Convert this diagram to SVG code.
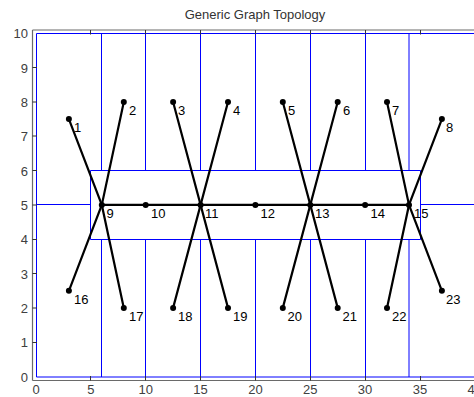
<svg xmlns="http://www.w3.org/2000/svg" width="474" height="397" viewBox="0 0 474 397">
<style>
.bl{stroke:#0000ff;stroke-width:1;fill:none}
.ax{stroke:#6a6a6a;stroke-width:1.2;fill:none}
.tk{stroke:#333;stroke-width:1;fill:none}
.tl{font-family:"Liberation Sans",Arial,sans-serif;font-size:13px;fill:#404040}
.e{stroke:#000;stroke-width:2.2;fill:none;stroke-linecap:round}
.n circle{fill:#000}
.n text{font-family:"Liberation Sans",Arial,sans-serif;font-size:13px;fill:#000}
</style>
<rect width="474" height="397" fill="#fff"/>
<text x="255" y="19" text-anchor="middle" style="font-family:'Liberation Sans',Arial,sans-serif;font-size:13px;fill:#333">Generic Graph Topology</text>
<g id="partition">
<path class="bl" d="M36.5,33.5H475M36.5,33.5V377M36.5,377H475"/>
<path class="bl" d="M90.5,170.5H420.5M90.5,239.5H420.5M90.5,170.5V239.5M420.5,170.5V239.5M36.5,204.5H90.5M420.5,204.5H475"/>
<path class="bl" d="M101.5,33.5V170.5M145.5,33.5V170.5M200.5,33.5V170.5M255.5,33.5V170.5M310.5,33.5V170.5M365.5,33.5V170.5M409,33.5V170.5"/>
<path class="bl" d="M101.5,239.5V377M145.5,239.5V377M200.5,239.5V377M255.5,239.5V377M310.5,239.5V377M365.5,239.5V377M409,239.5V377"/>
</g>
<g id="axes">
<path class="ax" d="M32.5,30H475M32.5,30V380.5M32.5,380.5H475"/>
<path class="tk" d="M90.5,30v4.5M145.5,30v4.5M200.5,30v4.5M255.5,30v4.5M310.5,30v4.5M365.5,30v4.5M420.5,30v4.5M90.5,380.5v-4.5M145.5,380.5v-4.5M200.5,380.5v-4.5M255.5,380.5v-4.5M310.5,380.5v-4.5M365.5,380.5v-4.5M420.5,380.5v-4.5M32.5,342.5h4.5M32.5,308h4.5M32.5,273.5h4.5M32.5,239.5h4.5M32.5,205h4.5M32.5,170.5h4.5M32.5,136h4.5M32.5,102h4.5M32.5,67.5h4.5"/>
<g class="tl" text-anchor="end">
<text x="28" y="381.6">0</text>
<text x="28" y="347.3">1</text>
<text x="28" y="312.9">2</text>
<text x="28" y="278.6">3</text>
<text x="28" y="244.3">4</text>
<text x="28" y="210">5</text>
<text x="28" y="175.6">6</text>
<text x="28" y="141.3">7</text>
<text x="28" y="107">8</text>
<text x="28" y="72.6">9</text>
<text x="28" y="38.3">10</text>
</g>
<g class="tl" text-anchor="middle">
<text x="36" y="394.3">0</text>
<text x="90.9" y="394.3">5</text>
<text x="145.7" y="394.3">10</text>
<text x="200.6" y="394.3">15</text>
<text x="255.4" y="394.3">20</text>
<text x="310.3" y="394.3">25</text>
<text x="365.1" y="394.3">30</text>
<text x="420" y="394.3">35</text>
<text x="474.8" y="394.3">40</text>
</g>
</g>
<g id="connectors">
<path class="e" d="M68.9,119.1L101.8,204.9L123.8,307.9"/>
<path class="e" d="M123.8,102L101.8,204.9L68.9,290.8"/>
<path class="e" d="M173.1,102L200.6,204.9L228,307.9"/>
<path class="e" d="M228,102L200.6,204.9L173.1,307.9"/>
<path class="e" d="M282.8,102L310.3,204.9L337.7,307.9"/>
<path class="e" d="M337.7,102L310.3,204.9L282.8,307.9"/>
<path class="e" d="M387,102L409,204.9L441.9,290.8"/>
<path class="e" d="M441.9,119.1L409,204.9L387,307.9"/>
<path class="e" d="M101.8,204.9H409"/>
</g>
<g id="n1" class="n"><circle cx="68.9" cy="119.1" r="3"/><text x="74" y="132">1</text></g>
<g id="n2" class="n"><circle cx="123.8" cy="102" r="3"/><text x="129" y="115">2</text></g>
<g id="n3" class="n"><circle cx="173.1" cy="102" r="3"/><text x="178" y="115">3</text></g>
<g id="n4" class="n"><circle cx="228" cy="102" r="3"/><text x="233" y="115">4</text></g>
<g id="n5" class="n"><circle cx="282.8" cy="102" r="3"/><text x="288" y="115">5</text></g>
<g id="n6" class="n"><circle cx="337.7" cy="102" r="3"/><text x="343" y="115">6</text></g>
<g id="n7" class="n"><circle cx="387" cy="102" r="3"/><text x="392" y="115">7</text></g>
<g id="n8" class="n"><circle cx="441.9" cy="119.1" r="3"/><text x="446" y="132">8</text></g>
<g id="n9" class="n"><circle cx="101.8" cy="204.9" r="3"/><text x="106.5" y="218">9</text></g>
<g id="n10" class="n"><circle cx="145.7" cy="204.9" r="3"/><text x="151" y="218">10</text></g>
<g id="n11" class="n"><circle cx="200.6" cy="204.9" r="3"/><text x="205" y="218">11</text></g>
<g id="n12" class="n"><circle cx="255.4" cy="204.9" r="3"/><text x="260.5" y="218">12</text></g>
<g id="n13" class="n"><circle cx="310.3" cy="204.9" r="3"/><text x="315" y="218">13</text></g>
<g id="n14" class="n"><circle cx="365.1" cy="204.9" r="3"/><text x="370.5" y="218">14</text></g>
<g id="n15" class="n"><circle cx="409" cy="204.9" r="3"/><text x="414" y="218">15</text></g>
<g id="n16" class="n"><circle cx="68.9" cy="290.8" r="3"/><text x="74" y="304">16</text></g>
<g id="n17" class="n"><circle cx="123.8" cy="307.9" r="3"/><text x="129" y="321">17</text></g>
<g id="n18" class="n"><circle cx="173.1" cy="307.9" r="3"/><text x="178" y="321">18</text></g>
<g id="n19" class="n"><circle cx="228" cy="307.9" r="3"/><text x="233" y="321">19</text></g>
<g id="n20" class="n"><circle cx="282.8" cy="307.9" r="3"/><text x="287.5" y="321">20</text></g>
<g id="n21" class="n"><circle cx="337.7" cy="307.9" r="3"/><text x="342.5" y="321">21</text></g>
<g id="n22" class="n"><circle cx="387" cy="307.9" r="3"/><text x="392" y="321">22</text></g>
<g id="n23" class="n"><circle cx="441.9" cy="290.8" r="3"/><text x="446" y="304">23</text></g>
</svg>
